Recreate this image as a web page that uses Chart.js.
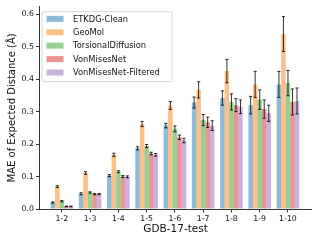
<!DOCTYPE html>
<html>
<head>
<meta charset="utf-8">
<script src="https://cdn.jsdelivr.net/npm/chart.js@4.4.0/dist/chart.umd.min.js"></script>
<style>
  html, body { margin: 0; padding: 0; background: #fff; }
  #wrap { width: 317px; height: 241px; }
</style>
</head>
<body>
<div id="wrap"><canvas id="chart" width="317" height="241"></canvas></div>
<script>
// Datos
const categories = ['1-2', '1-3', '1-4', '1-5', '1-6', '1-7', '1-8', '1-9', '1-10'];
const methods = ['ETKDG-Clean', 'GeoMol', 'TorsionalDiffusion', 'VonMisesNet', 'VonMisesNet-Filtered'];

const etkdg     = [0.020, 0.047, 0.103, 0.187, 0.257, 0.328, 0.342, 0.320, 0.384];
const geomol    = [0.069, 0.111, 0.167, 0.262, 0.319, 0.367, 0.425, 0.384, 0.539];
const torsional = [0.024, 0.051, 0.115, 0.194, 0.247, 0.274, 0.330, 0.337, 0.388];
const vonmises  = [0.008, 0.046, 0.100, 0.171, 0.221, 0.267, 0.320, 0.308, 0.330];
const vonmisesF = [0.008, 0.046, 0.099, 0.167, 0.211, 0.257, 0.315, 0.295, 0.333];

const etkdgErr     = [0.002, 0.003, 0.003, 0.005, 0.007, 0.017, 0.022, 0.027, 0.040];
const geomolErr    = [0.003, 0.004, 0.005, 0.008, 0.012, 0.025, 0.036, 0.040, 0.054];
const torsionalErr = [0.002, 0.002, 0.003, 0.005, 0.009, 0.017, 0.025, 0.030, 0.039];
const vonmisesErr  = [0.001, 0.002, 0.003, 0.004, 0.007, 0.016, 0.020, 0.028, 0.040];
const vonmisesFErr = [0.001, 0.002, 0.003, 0.004, 0.007, 0.015, 0.021, 0.025, 0.040];

const yTicks = [0.0, 0.1, 0.2, 0.3, 0.4, 0.5, 0.6];

const series = [etkdg, geomol, torsional, vonmises, vonmisesF];
const errors = [etkdgErr, geomolErr, torsionalErr, vonmisesErr, vonmisesFErr];
const colors = [
  'rgba(31, 119, 180, 0.5)',
  'rgba(255, 127, 14, 0.5)',
  'rgba(44, 160, 44, 0.5)',
  'rgba(214, 39, 40, 0.5)',
  'rgba(148, 103, 189, 0.5)'
];

const FONT = 'DejaVu Sans';

// Barras de error dibujadas con las escalas del gráfico
const errorBars = {
  id: 'errorBars',
  afterDatasetsDraw(chart) {
    const ctx = chart.ctx;
    const y = chart.scales.y;
    ctx.save();
    ctx.strokeStyle = 'rgba(0, 0, 0, 0.8)';
    ctx.lineWidth = 1;
    chart.data.datasets.forEach((ds, di) => {
      const meta = chart.getDatasetMeta(di);
      meta.data.forEach((bar, i) => {
        const v = series[di][i];
        const e = errors[di][i];
        const top = y.getPixelForValue(v + e);
        const bot = y.getPixelForValue(v - e);
        const x = bar.x;
        ctx.beginPath();
        ctx.moveTo(x, top); ctx.lineTo(x, bot);
        ctx.moveTo(x - 1.6, top); ctx.lineTo(x + 1.6, top);
        ctx.moveTo(x - 1.6, bot); ctx.lineTo(x + 1.6, bot);
        ctx.stroke();
      });
    });
    ctx.restore();
  }
};

// Leyenda dentro del área del gráfico
const innerLegend = {
  id: 'innerLegend',
  afterDraw(chart) {
    const ctx = chart.ctx;
    const area = chart.chartArea;
    const bx = area.left + 2.5, by = area.top + 5, bw = 130, bh = 70;
    ctx.save();
    ctx.beginPath();
    ctx.roundRect(bx, by, bw, bh, 2);
    ctx.fillStyle = 'rgba(255, 255, 255, 0.8)';
    ctx.fill();
    ctx.strokeStyle = 'rgba(204, 204, 204, 0.8)';
    ctx.lineWidth = 1;
    ctx.stroke();
    ctx.font = '8.3px "' + FONT + '"';
    ctx.textBaseline = 'middle';
    methods.forEach((m, i) => {
      const cy = by + 7.2 + i * 13.4;
      ctx.fillStyle = colors[i];
      ctx.fillRect(bx + 4.5, cy - 3, 17, 6);
      ctx.fillStyle = '#111';
      ctx.fillText(m, bx + 31, cy + 0.5);
    });
    ctx.restore();
  }
};

const ctx = document.getElementById('chart').getContext('2d');
new Chart(ctx, {
  type: 'bar',
  data: {
    datasets: methods.map((m, di) => ({
      label: m,
      data: series[di].map((v, i) => ({ x: i, y: v })),
      backgroundColor: colors[di],
      borderWidth: 0,
      categoryPercentage: 0.8,
      barPercentage: 1.0
    }))
  },
  options: {
    responsive: false,
    animation: false,
    devicePixelRatio: 1,
    layout: { padding: { top: 5, right: 5.3, left: 0, bottom: 0 } },
    plugins: {
      legend: { display: false },
      tooltip: { enabled: false }
    },
    scales: {
      x: {
        type: 'linear',
        min: -0.79,
        max: 8.84,
        offset: false,
        afterBuildTicks: s => { s.ticks = categories.map((c, i) => ({ value: i })); },
        afterFit: s => { s.height = 32; },
        grid: { offset: false, drawOnChartArea: false, drawTicks: true, tickLength: 3.5, color: '#333' },
        border: { display: true, color: '#333', width: 1 },
        ticks: {
          autoSkip: false,
          maxRotation: 0,
          padding: 2,
          color: '#111',
          font: { family: FONT, size: 7.8 },
          callback: v => categories[v]
        },
        title: {
          display: true,
          text: 'GDB-17-test',
          color: '#111',
          font: { family: FONT, size: 10.5 },
          padding: { top: 0, bottom: 5 }
        }
      },
      y: {
        min: 0,
        max: 0.6235,
        afterBuildTicks: s => { s.ticks = yTicks.map(v => ({ value: v })); },
        afterFit: s => { s.width = 39.5; },
        grid: { drawOnChartArea: false, drawTicks: true, tickLength: 3.5, color: '#333' },
        border: { display: true, color: '#333', width: 1 },
        ticks: {
          padding: 2,
          color: '#111',
          font: { family: FONT, size: 7.8 },
          callback: v => v.toFixed(1)
        },
        title: {
          display: true,
          text: 'MAE of Expected Distance (Å)',
          color: '#111',
          font: { family: FONT, size: 10 },
          padding: { top: 6.5, bottom: 0 }
        }
      }
    }
  },
  plugins: [errorBars, innerLegend]
});
</script>
</body>
</html>
